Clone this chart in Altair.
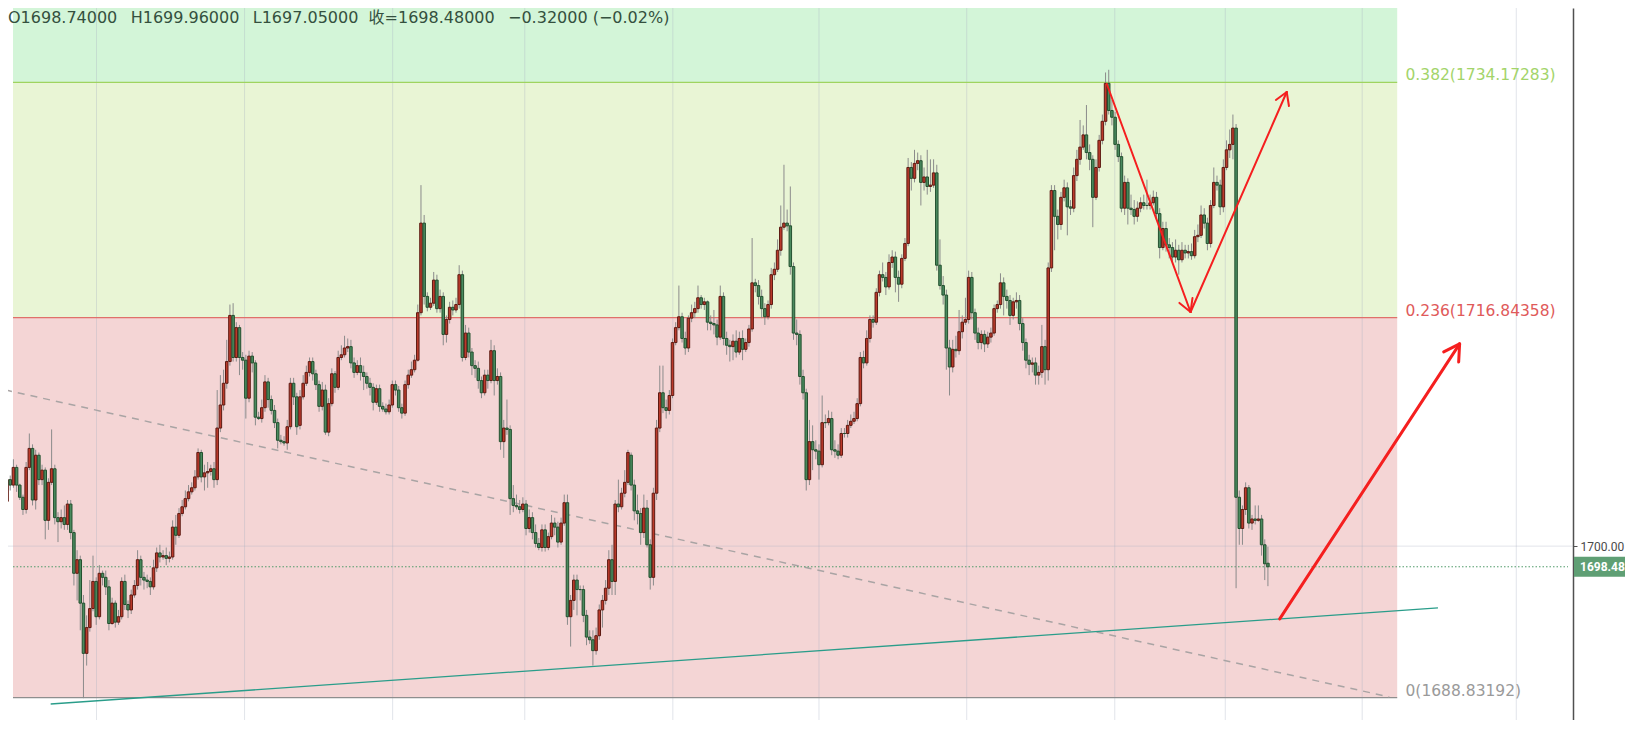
import altair as alt
import pandas as pd

# ---- candles (open, high, low, close), oldest first ----
seg_a = [
(1703.3,1705.6,1702.5,1704.9),(1704.9,1705.2,1704.1,1704.5),(1704.5,1706.4,1704.3,1705.8),(1705.8,1706.0,1704.0,1704.5),
(1704.5,1704.6,1703.4,1703.6),(1703.6,1703.8,1702.3,1702.7),(1702.7,1706.2,1702.4,1705.8),(1705.8,1708.3,1705.6,1707.2),
(1707.2,1707.5,1703.0,1703.4),(1703.4,1707.1,1702.7,1706.7),(1706.7,1706.9,1704.5,1704.9),(1704.9,1706.0,1704.5,1705.6),
(1705.6,1705.8,1700.5,1701.9),(1701.9,1705.0,1701.2,1704.7),(1704.7,1708.6,1704.5,1705.7),(1705.7,1706.0,1701.6,1702.1),
(1702.1,1702.5,1700.3,1701.8),(1701.8,1702.7,1701.3,1702.1),(1702.1,1703.0,1701.2,1701.6),(1701.6,1703.4,1701.2,1703.1),
(1703.1,1703.4,1700.5,1701.0),(1701.0,1701.2,1697.1,1698.0),(1698.0,1699.7,1696.0,1699.0),(1699.0,1699.3,1693.8,1695.8),
(1695.8,1696.4,1688.8,1692.1),(1692.1,1694.9,1691.2,1694.0),(1694.0,1697.5,1693.7,1695.4),(1695.4,1699.3,1695.2,1697.4),
(1697.4,1697.7,1694.2,1694.8),(1694.8,1698.6,1694.6,1698.0),(1698.0,1698.2,1697.1,1697.7),(1697.7,1698.2,1696.4,1697.0),
(1697.0,1697.5,1693.8,1694.3),(1694.3,1696.2,1694.2,1695.8),(1695.8,1696.0,1694.0,1694.4),(1694.4,1695.3,1694.2,1694.8),
(1694.8,1697.7,1694.6,1697.4),(1697.4,1697.9,1695.3,1695.7),(1695.7,1696.0,1694.7,1695.3),(1695.3,1696.8,1695.0,1696.4),
(1696.4,1697.5,1696.2,1697.1),(1697.1,1699.7,1696.8,1699.0),(1699.0,1699.3,1697.1,1697.7),(1697.7,1698.1,1696.8,1697.5),
(1697.5,1697.9,1696.9,1697.4),(1697.4,1697.7,1696.4,1697.0),(1697.0,1699.0,1696.8,1698.4),(1698.4,1699.9,1698.1,1699.5),
(1699.5,1700.1,1698.8,1699.2),(1699.2,1699.7,1699.0,1699.3),(1699.3,1699.9,1698.6,1699.1),(1699.1,1699.6,1698.8,1699.2),
(1699.2,1701.9,1699.0,1701.4),(1701.4,1702.3,1700.1,1700.8),(1700.8,1702.8,1700.6,1702.4),(1702.4,1703.4,1702.2,1702.9),
(1702.9,1704.1,1702.7,1703.5),(1703.5,1704.5,1703.3,1704.0),(1704.0,1704.7,1703.8,1704.3),(1704.3,1705.6,1704.1,1705.1),
(1705.1,1707.2,1704.9,1706.9),(1706.9,1707.1,1704.7,1705.1),(1705.1,1706.0,1704.1,1705.4),(1705.4,1706.2,1704.3,1705.5),
(1705.5,1706.0,1705.2,1705.7),(1705.7,1706.2,1704.3,1704.9),(1704.9,1711.5,1704.5,1708.7),(1708.7,1712.6,1708.4,1710.4),
(1710.4,1713.0,1710.0,1712.0),(1712.0,1715.2,1711.6,1713.6),(1713.6,1717.8,1713.3,1717.0),
]
seg_b = [
(1717.0,1717.9,1713.6,1713.9),(1713.9,1716.5,1713.6,1716.1),(1716.1,1716.3,1712.6,1713.9),(1713.9,1714.3,1713.0,1713.7),
(1713.7,1714.1,1709.4,1710.9),(1710.9,1714.4,1710.6,1714.0),(1714.0,1714.3,1712.8,1713.5),(1713.5,1713.7,1708.9,1709.5),
(1709.5,1709.9,1709.3,1709.4),(1709.4,1710.8,1709.1,1710.2),(1710.2,1712.6,1709.9,1712.1),(1712.1,1712.4,1710.2,1710.8),
(1710.8,1711.1,1709.7,1710.0),(1710.0,1710.4,1708.7,1709.1),(1709.1,1709.4,1707.2,1707.8),(1707.8,1708.2,1707.5,1707.7),
(1707.7,1708.1,1707.4,1707.6),(1707.6,1709.3,1707.1,1708.8),(1708.8,1712.4,1708.6,1712.0),(1712.0,1712.4,1710.4,1711.0),
(1711.0,1711.3,1708.2,1708.8),(1708.9,1711.5,1708.6,1711.0),(1711.0,1712.6,1710.8,1712.0),(1712.0,1713.3,1711.8,1712.8),
(1712.8,1713.9,1712.5,1713.6),(1713.6,1713.9,1712.2,1712.7),(1712.7,1713.0,1711.5,1711.9),(1711.9,1712.2,1709.9,1710.3),
(1710.3,1712.1,1710.0,1711.5),(1711.5,1711.9,1708.2,1708.4),(1708.4,1710.9,1708.1,1710.5),(1710.5,1713.1,1710.3,1712.7),
(1712.7,1712.9,1711.3,1711.7),(1711.7,1714.4,1711.5,1713.9),(1713.9,1714.8,1713.7,1714.1),(1714.1,1715.5,1713.9,1714.6),
(1714.6,1715.3,1714.3,1714.7),(1714.7,1715.2,1713.1,1713.5),(1713.5,1713.9,1712.4,1712.8),(1712.8,1713.7,1712.6,1713.3),
(1713.3,1713.9,1712.2,1712.8),(1712.8,1713.3,1711.5,1712.5),(1712.5,1712.8,1711.6,1712.0),(1712.0,1712.4,1711.1,1711.7),
(1711.7,1712.0,1710.0,1710.6),(1710.6,1711.9,1710.4,1711.6),(1711.6,1711.9,1709.9,1710.3),(1710.3,1710.6,1709.9,1710.1),
(1710.1,1710.5,1709.7,1709.9),(1709.9,1710.8,1709.7,1710.4),(1710.4,1712.2,1710.2,1711.9),(1711.9,1712.2,1711.1,1711.5),
(1711.5,1711.8,1709.9,1710.2),(1710.2,1710.5,1709.4,1709.8),(1709.8,1712.2,1709.6,1711.9),(1711.9,1713.0,1711.6,1712.6),
(1712.6,1713.6,1712.4,1713.0),(1713.0,1714.1,1712.8,1713.7),(1713.7,1717.8,1713.6,1717.2),(1717.2,1726.6,1717.0,1723.8),
]
seg_c = [
(1723.8,1724.4,1717.8,1718.4),(1718.4,1718.7,1717.3,1717.6),(1717.6,1718.3,1717.4,1717.9),(1717.9,1720.2,1717.7,1719.6),
(1719.6,1720.0,1717.2,1717.5),(1717.5,1718.9,1717.2,1718.4),(1718.4,1718.7,1714.8,1715.6),(1715.6,1717.0,1715.0,1716.7),
(1716.7,1718.0,1716.4,1717.6),(1717.6,1718.1,1717.0,1717.4),(1717.4,1718.3,1717.2,1717.8),(1717.8,1720.7,1717.5,1720.0),
(1720.0,1720.3,1713.6,1713.9),(1713.9,1716.3,1713.7,1715.7),(1715.7,1716.1,1713.9,1714.3),(1714.3,1714.6,1712.6,1713.3),
(1713.3,1713.7,1712.4,1713.1),(1713.1,1713.6,1711.6,1712.2),(1712.2,1712.5,1710.9,1711.3),(1711.3,1713.0,1711.1,1712.6),
(1712.6,1713.0,1711.6,1712.2),(1712.2,1715.2,1712.0,1714.4),(1714.4,1714.8,1711.1,1712.2),(1712.2,1713.1,1711.9,1712.5),
(1712.5,1712.8,1707.1,1707.7),(1707.7,1709.3,1706.5,1708.7),(1708.7,1710.8,1708.2,1708.6),(1708.6,1708.9,1702.3,1703.5),
(1703.5,1704.5,1702.5,1703.0),(1703.0,1703.8,1702.7,1702.9),(1702.9,1703.4,1702.4,1702.7),(1702.7,1703.6,1702.5,1703.1),
(1703.1,1703.4,1700.8,1701.3),(1701.3,1702.7,1701.0,1702.1),(1702.1,1702.5,1700.5,1701.0),(1701.0,1701.6,1699.9,1700.2),
(1700.2,1700.6,1699.7,1699.9),(1699.9,1701.6,1699.6,1701.2),(1701.2,1701.6,1699.6,1699.9),(1699.9,1701.0,1699.7,1700.7),
(1700.7,1702.3,1700.5,1701.7),(1701.7,1702.1,1700.8,1701.4),(1701.4,1701.8,1699.9,1700.3),(1700.3,1702.1,1700.1,1701.7),
(1701.7,1703.8,1701.5,1703.2),(1703.2,1703.8,1694.2,1694.8),
]
seg_d = [
(1694.8,1696.4,1692.6,1696.0),(1696.0,1697.9,1695.3,1697.5),(1697.5,1697.9,1694.9,1696.8),(1696.8,1697.1,1696.0,1696.8),
(1696.8,1697.1,1694.4,1694.9),(1694.9,1695.3,1692.7,1693.3),(1693.3,1693.8,1692.8,1693.1),(1693.1,1693.8,1691.2,1692.3),
(1692.3,1694.0,1692.0,1693.4),(1693.4,1695.7,1693.1,1695.3),(1695.3,1696.4,1694.0,1696.0),(1696.0,1697.5,1695.7,1696.9),
(1696.9,1699.7,1696.4,1699.0),(1699.0,1700.1,1696.4,1697.4),(1697.4,1703.4,1696.4,1703.1),(1703.1,1704.9,1702.5,1702.9),
(1702.9,1704.3,1702.7,1703.9),(1703.9,1705.6,1703.6,1704.7),(1704.7,1707.1,1704.5,1706.9),(1706.7,1706.9,1704.1,1704.5),
(1704.5,1704.9,1701.9,1702.6),(1702.6,1703.8,1701.6,1702.4),(1702.4,1702.8,1700.1,1701.0),(1701.0,1703.8,1700.6,1702.8),
(1702.8,1703.4,1699.9,1700.1),(1700.1,1700.5,1696.8,1697.7),(1697.7,1704.3,1697.1,1703.9),(1703.9,1709.3,1703.4,1708.7),
(1708.7,1713.3,1708.4,1711.3),(1711.3,1713.3,1709.8,1710.2),(1710.2,1710.8,1709.4,1710.0),(1710.0,1711.5,1709.7,1711.1),
(1711.1,1715.3,1710.9,1715.0),(1715.0,1716.5,1714.8,1716.1),(1716.1,1719.2,1715.9,1716.9),(1716.9,1717.2,1715.0,1715.3),
(1715.3,1715.8,1714.1,1714.6),(1714.6,1717.0,1714.3,1716.8),(1716.8,1717.8,1716.5,1717.2),(1717.2,1718.0,1716.8,1717.5),
(1717.5,1719.2,1717.2,1718.3),(1718.3,1718.5,1717.5,1717.8),(1717.8,1718.3,1717.4,1718.0),(1718.0,1718.1,1715.9,1716.5),
(1716.5,1717.0,1715.9,1716.4),(1716.4,1717.4,1715.6,1716.3),(1716.3,1716.7,1714.8,1715.4),(1715.4,1719.2,1715.2,1718.4),
(1718.4,1718.7,1714.8,1715.3),(1715.3,1715.8,1714.1,1714.8),(1714.8,1715.2,1713.6,1714.7),(1714.7,1715.6,1713.7,1715.1),
(1715.1,1715.9,1713.9,1714.3),(1714.3,1715.8,1714.1,1715.3),(1715.3,1715.9,1713.7,1714.5),(1714.5,1715.3,1714.3,1715.0),
(1715.0,1716.3,1714.7,1716.0),(1716.0,1722.7,1715.8,1719.4),(1719.4,1719.7,1718.7,1719.2),(1719.2,1719.6,1717.8,1718.4),
(1718.4,1718.9,1716.8,1717.5),(1717.5,1717.9,1716.3,1716.9),(1716.9,1718.1,1716.7,1717.8),(1717.8,1720.5,1717.5,1720.0),
(1720.0,1720.9,1719.6,1720.4),(1720.4,1722.6,1720.2,1721.8),(1721.8,1725.1,1721.4,1723.5),(1723.5,1728.1,1723.3,1723.8),
(1723.8,1724.8,1723.2,1723.6),(1723.6,1726.5,1720.0,1720.6),(1720.6,1720.9,1715.2,1715.7),(1715.7,1716.7,1714.8,1715.6),
(1715.6,1715.9,1711.9,1712.5),(1712.5,1713.0,1710.8,1711.3),(1711.3,1711.6,1704.1,1704.9),(1704.9,1709.3,1704.5,1707.7),
(1707.7,1708.9,1705.6,1707.1),(1707.1,1707.8,1706.4,1707.0),(1707.0,1707.5,1704.9,1706.0),(1706.0,1711.1,1705.8,1709.1),
(1709.1,1709.7,1708.7,1709.1),(1709.1,1710.0,1708.9,1709.4),(1709.4,1709.9,1706.7,1707.1),(1707.1,1707.8,1706.5,1707.0),
(1707.0,1707.5,1706.4,1706.7),(1706.7,1708.7,1706.5,1708.3),(1708.3,1708.7,1708.0,1708.3),(1708.3,1709.3,1708.0,1708.9),
(1708.9,1709.7,1708.7,1709.2),(1709.2,1709.9,1709.0,1709.4),(1709.4,1710.9,1709.2,1710.5),(1710.5,1714.3,1710.3,1713.9),
(1713.9,1714.4,1713.1,1713.5),(1713.5,1715.9,1713.3,1715.3),
]
seg_e = [
(1715.3,1717.0,1715.0,1716.7),(1716.7,1717.0,1716.1,1716.5),(1716.5,1719.0,1716.3,1718.7),(1718.7,1720.3,1718.4,1720.0),
(1720.0,1720.9,1719.5,1719.8),(1719.8,1720.2,1718.5,1719.1),(1719.1,1721.5,1718.9,1720.9),(1720.9,1721.8,1720.5,1721.3),
(1721.3,1721.7,1718.7,1719.8),(1719.8,1720.3,1718.0,1719.3),(1719.3,1721.5,1719.0,1721.2),(1721.2,1722.7,1721.0,1722.3),
(1722.3,1728.6,1722.1,1727.9),(1727.9,1728.3,1726.2,1727.1),(1727.1,1729.2,1726.8,1728.2),(1728.2,1729.0,1727.7,1728.4),
(1728.4,1728.8,1725.1,1726.8),(1726.8,1727.9,1726.2,1727.2),(1727.2,1729.2,1725.9,1726.5),(1726.5,1728.5,1726.1,1726.6),
(1726.6,1728.5,1726.4,1727.5),(1727.5,1728.1,1720.3,1720.7),(1720.7,1722.6,1718.9,1719.2),(1719.2,1719.9,1717.8,1718.5),
(1718.5,1718.9,1713.0,1714.6),(1714.6,1715.2,1711.1,1713.2),(1713.2,1715.2,1712.8,1714.5),(1714.5,1715.5,1713.9,1714.4),
(1714.4,1717.4,1714.1,1715.8),(1715.8,1717.0,1715.3,1716.5),(1716.5,1718.3,1716.3,1716.7),(1716.7,1720.3,1716.4,1719.8),
(1719.8,1720.2,1716.7,1717.2),(1717.2,1717.5,1715.2,1715.7),(1715.7,1716.1,1714.5,1715.0),(1715.0,1715.9,1714.5,1715.6),
(1715.6,1715.9,1714.3,1714.9),(1714.9,1715.8,1714.6,1715.4),(1715.4,1716.1,1715.0,1715.7),(1715.7,1717.8,1715.5,1717.5),
(1717.5,1718.1,1717.2,1717.8),(1717.8,1720.1,1717.5,1719.4),(1719.4,1719.8,1717.0,1718.4),(1718.4,1718.9,1717.5,1718.1),
(1718.1,1718.5,1716.3,1717.0),(1717.0,1718.3,1716.7,1718.0),(1718.0,1718.7,1717.5,1718.1),(1718.1,1718.5,1715.9,1716.4),
(1716.4,1716.8,1714.4,1715.0),(1715.0,1715.3,1713.1,1713.7),(1713.7,1714.1,1712.6,1713.4),(1713.4,1713.9,1712.8,1713.5),
(1713.5,1713.9,1711.9,1712.6),(1712.6,1713.3,1711.9,1712.8),(1712.8,1716.3,1712.4,1714.7),(1714.7,1715.2,1711.9,1713.0),
(1713.0,1720.9,1712.2,1720.5),(1720.5,1726.6,1720.2,1726.2),(1726.2,1726.6,1721.8,1724.3),(1724.3,1724.8,1722.6,1723.7),
(1723.7,1726.1,1723.3,1725.7),(1725.7,1727.0,1725.4,1726.4),
]
seg_f = [
(1726.4,1726.8,1722.9,1725.0),(1725.0,1725.5,1724.4,1724.9),(1724.9,1727.9,1724.6,1727.3),(1727.3,1729.2,1726.9,1728.5),
(1728.5,1731.4,1728.1,1729.4),(1729.4,1731.0,1729.2,1730.3),(1730.3,1732.5,1728.5,1729.0),(1729.0,1729.6,1727.7,1728.5),
(1728.5,1728.8,1723.5,1725.7),(1725.7,1728.5,1725.5,1727.9),(1727.9,1730.3,1727.6,1729.9),(1729.9,1731.8,1729.6,1731.3),
(1731.3,1734.9,1731.0,1734.1),(1734.1,1735.1,1731.8,1732.1),(1732.1,1732.9,1731.0,1731.6),(1731.6,1732.0,1729.2,1729.6),
(1729.6,1729.9,1728.3,1728.7),(1728.7,1729.0,1724.6,1724.9),(1724.9,1727.3,1724.4,1726.8),(1726.8,1727.1,1723.7,1724.9),
(1724.9,1725.9,1724.4,1724.8),(1724.8,1725.5,1723.7,1724.3),(1724.3,1725.4,1723.9,1724.9),(1724.9,1725.7,1724.6,1725.3),
(1725.3,1725.9,1724.8,1725.1),(1725.1,1727.0,1724.8,1725.1),(1725.1,1725.9,1724.8,1725.3),(1725.3,1726.2,1725.1,1725.7),
(1725.7,1726.1,1724.0,1724.5),(1724.5,1724.9,1721.2,1722.0),(1722.0,1723.9,1721.8,1723.4),(1723.4,1723.9,1721.7,1722.2),
(1722.2,1722.7,1721.2,1722.0),(1722.0,1722.4,1720.9,1721.3),(1721.3,1722.6,1720.9,1721.8),(1721.8,1722.2,1720.0,1721.1),
(1721.1,1722.4,1720.9,1721.8),(1721.8,1722.2,1721.2,1721.6),(1721.6,1722.2,1721.2,1721.7),(1721.7,1722.3,1721.1,1721.4),
(1721.4,1723.3,1721.2,1722.8),(1722.8,1723.7,1722.4,1722.9),(1722.9,1725.1,1722.7,1724.4),(1724.4,1724.9,1723.4,1723.8),
(1723.8,1724.2,1721.8,1722.3),(1722.3,1725.5,1722.0,1725.1),(1725.1,1727.9,1724.9,1726.8),(1726.8,1727.3,1726.2,1726.6),
(1726.6,1727.0,1724.4,1725.0),(1725.0,1728.5,1724.6,1727.9),(1727.9,1729.9,1727.7,1729.2),(1729.2,1730.7,1728.6,1729.6),
(1729.6,1731.8,1728.5,1730.8),
]
seg_g = [
(1730.8,1731.1,1696.9,1703.6),(1703.6,1704.1,1700.1,1701.3),(1701.3,1703.0,1700.1,1702.7),(1702.7,1704.7,1702.3,1704.3),
(1704.3,1704.5,1701.3,1701.7),(1701.7,1702.3,1701.2,1702.0),(1702.0,1703.0,1701.6,1701.9),(1701.9,1703.0,1701.8,1702.0),
(1702.0,1702.3,1699.3,1700.1),(1700.1,1700.5,1697.5,1698.7),(1698.74,1699.96,1697.05,1698.48),
]

# header values
chg_abs = -0.32
chg_pct = -0.02

# Fibonacci levels
fib_ratio = ["0.382", "0.236", "0"]
fib_price = [1734.17283, 1716.84358, 1688.83192]
fib_line_color = ["#9fd45f", "#e0706a", "#8e8e8e"]
fib_text_color = ["#a3d46a", "#e05a5a", "#9a9a9a"]
band_lo = [1734.17283, 1716.84358, 1688.83192]
band_hi = [1745.0, 1734.17283, 1716.84358]
band_color = ["#d3f5d8", "#e9f5d5", "#f4d5d5"]
fib_end_idx = 436.6     # bar index where the fib box ends
fib_label_idx = 439.2

# time grid (bar indices of the vertical grid lines)
grid_idx = [28.1, 74.6, 121.1, 162.6, 209.1, 255.0, 301.4, 347.9, 382.6, 425.6, 474.0]
price_ticks = [1700]

# trend lines (bar index, price)
dash_line = dict(x1=-0.62, y1=1711.51, x2=434.1, y2=1688.89)
support_line = dict(x1=13.7, y1=1688.37, x2=449.4, y2=1695.45)

# red arrows: segments (x1, y1, x2, y2, width)
arrow_x1 = [345.4, 371.7, 371.7, 371.7, 401.9, 401.9, 399.7, 456.2, 456.2]
arrow_y1 = [1734.05, 1717.25, 1717.25, 1717.25, 1733.46, 1733.46, 1694.64, 1714.90, 1714.90]
arrow_x2 = [371.7, 368.2, 372.3, 401.9, 398.5, 402.6, 456.2, 451.2, 455.9]
arrow_y2 = [1717.25, 1717.92, 1718.28, 1733.46, 1732.87, 1732.43, 1714.90, 1714.31, 1713.57]
arrow_w = [2, 2, 2, 2, 2, 2, 3, 3, 3]

candles = seg_a + seg_b + seg_c + seg_d + seg_e + seg_f + seg_g
df = pd.DataFrame(candles, columns=["o", "h", "l", "c"])
df["i"] = list(range(len(df)))
df["dir"] = ["up" if c > o else "down" for o, c in zip(df["o"], df["c"])]

last_o, last_h, last_l, last_c = candles[-1]

X_MIN, X_MAX = 1.87, 490.24
Y_MIN, Y_MAX = 1687.19, 1739.65
xs = alt.Scale(domain=[X_MIN, X_MAX], nice=False, zero=False)
ys = alt.Scale(domain=[Y_MIN, Y_MAX], nice=False, zero=False)
FONT = "DejaVu Sans"
AXFONT = "Roboto"

y_axis = alt.Axis(
    orient="right", values=price_ticks, format=".2f", grid=False,
    labelFont=AXFONT, labelFontSize=12, labelColor="#4a4a4a",
    domainColor="#505050", domainWidth=1.5, tickColor="#505050",
    tickSize=4, labelPadding=3, title=None)


def X(f):
    return alt.X(f, type="quantitative", scale=xs, axis=None)


def Y(f):
    return alt.Y(f, type="quantitative", scale=ys, axis=y_axis)


band_df = pd.DataFrame({"x1": [X_MIN] * 3, "x2": [fib_end_idx] * 3,
                        "lo": band_lo, "hi": band_hi, "col": band_color})
bands = alt.Chart(band_df).mark_rect(clip=True).encode(
    x=X("x1"), x2="x2", y=Y("lo"), y2="hi", color=alt.Color("col:N", scale=None))

vgrid = alt.Chart(pd.DataFrame({"g": grid_idx})).mark_rule(
    color="#aab2c4", opacity=0.35, strokeWidth=1).encode(x=X("g"))

hgrid = alt.Chart(pd.DataFrame({"v": price_ticks})).mark_rule(
    color="#aab2c4", opacity=0.35, strokeWidth=1).encode(y=Y("v"))

fib_df = pd.DataFrame({"x1": [X_MIN] * 3, "x2": [fib_end_idx] * 3, "p": fib_price,
                       "lc": fib_line_color, "tc": fib_text_color,
                       "lx": [fib_label_idx] * 3,
                       "label": [f"{r}({p:.5f})" for r, p in zip(fib_ratio, fib_price)]})
fib_lines = alt.Chart(fib_df).mark_rule(strokeWidth=1.2).encode(
    x=X("x1"), x2="x2", y=Y("p"), color=alt.Color("lc:N", scale=None))
fib_labels = alt.Chart(fib_df).mark_text(
    align="left", baseline="middle", dy=-7, font=FONT, fontSize=15.5).encode(
    x=X("lx"), y=Y("p"), text="label:N", color=alt.Color("tc:N", scale=None))

dash = alt.Chart(pd.DataFrame([dash_line])).mark_rule(
    color="#a9a4a4", strokeWidth=1.5, strokeDash=[7, 6], clip=True).encode(
    x=X("x1"), y=Y("y1"), x2="x2", y2="y2")
support = alt.Chart(pd.DataFrame([support_line])).mark_rule(
    color="#2a9d8a", strokeWidth=1.3, clip=True).encode(
    x=X("x1"), y=Y("y1"), x2="x2", y2="y2")

last_line = alt.Chart(pd.DataFrame({"p": [last_c], "x1": [X_MIN], "x2": [X_MAX]})).mark_rule(
    color="#4f9a6a", strokeWidth=1, strokeDash=[1.5, 2]).encode(x=X("x1"), x2="x2", y=Y("p"))

up_col, dn_col = "#bb3a2b", "#4a8a5e"
up_str, dn_str = "#5c1a12", "#23502f"
wicks = alt.Chart(df).mark_rule(color="#8b8b8b", strokeWidth=1, clip=True).encode(
    x=X("i"), y=Y("l"), y2="h")
bodies = alt.Chart(df).mark_bar(size=2.5, strokeWidth=1, clip=True).encode(
    x=X("i"), y=Y("o"), y2="c",
    fill=alt.Fill("dir:N", scale=alt.Scale(domain=["up", "down"], range=[up_col, dn_col]), legend=None),
    stroke=alt.Stroke("dir:N", scale=alt.Scale(domain=["up", "down"], range=[up_str, dn_str]), legend=None))

arrow_df = pd.DataFrame({"x1": arrow_x1, "y1": arrow_y1, "x2": arrow_x2, "y2": arrow_y2, "w": arrow_w})
arrows = alt.Chart(arrow_df).mark_rule(color="#f51f1f", strokeCap="round").encode(
    x=X("x1"), y=Y("y1"), x2="x2", y2="y2", strokeWidth=alt.StrokeWidth("w:Q", scale=None))

GAP = "\u00a0\u00a0\u2009"
header = (f"O{last_o:.5f}{GAP}H{last_h:.5f}{GAP}L{last_l:.5f}\u00a0\u00a0收={last_c:.5f}{GAP}"
          f"{chg_abs:.5f}\u00a0({chg_pct:.2f}%)").replace("-", "\u2212")
head = alt.Chart(pd.DataFrame({"t": [header]})).mark_text(
    align="left", baseline="middle", font=FONT + ", Noto Sans CJK SC", fontSize=16,
    color="#34503e").encode(x=alt.value(0), y=alt.value(10), text="t:N")

tag_df = pd.DataFrame({"p": [last_c], "t": [f"{last_c:.2f}"]})
tag_box = alt.Chart(tag_df).mark_rule(color="#5f9f74", strokeWidth=20, strokeCap="butt").encode(
    x=alt.value(1566), x2=alt.value(1640), y=Y("p"))
tag_text = alt.Chart(tag_df).mark_text(
    align="left", baseline="middle", font=AXFONT, fontSize=12, fontWeight="bold", color="white").encode(
    x=alt.value(1572), y=Y("p"), text="t:N")

chart = alt.layer(
    bands, vgrid, hgrid, fib_lines, dash, support, last_line,
    wicks, bodies, arrows, fib_labels, head, tag_box, tag_text
).properties(
    width=1565, height=712,
    autosize=alt.AutoSizeParams(type="none"),
    padding={"left": 0, "top": 0, "right": 52, "bottom": 0},
    background="white",
).configure_view(stroke=None)

chart.save("out.html", embed_options={"renderer": "svg", "actions": False})
